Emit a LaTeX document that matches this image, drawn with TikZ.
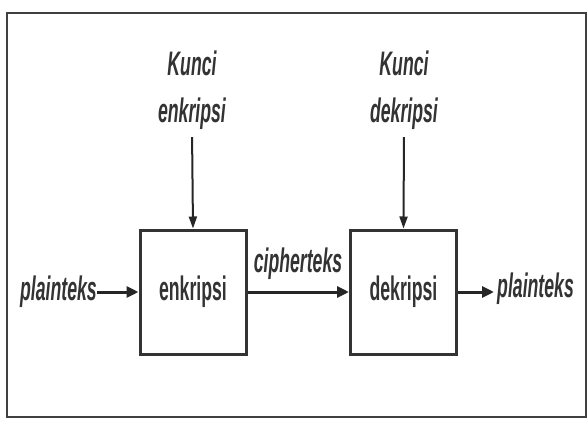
\documentclass[tikz,border=0pt]{standalone}
\usepackage{fontspec}
\setmainfont{Liberation Sans}[FakeStretch=0.52]
\usetikzlibrary{arrows.meta}
\begin{document}
\begin{tikzpicture}[x=1pt,y=-1pt,
  txt/.style={font=\fontsize{34}{47}\selectfont\bfseries, inner sep=0pt, text=black!80},
  lbl/.style={txt, font=\fontsize{34}{47}\selectfont\bfseries\itshape},
  proc/.style={draw=black!80, line width=3pt, minimum width=106pt, minimum height=124pt, txt},
  flow/.style={draw=black!85, line width=3pt, -{Triangle[length=12pt,width=11pt]}},
  keyarrow/.style={draw=black!85, line width=2pt, -{Triangle[length=12pt,width=8pt]}},
  frame/.style={draw=black!75, line width=2.8pt}]
  \useasboundingbox (0,0) rectangle (588,420);
  \draw[frame] (7,13) rectangle (586,417);

  % processing blocks
  \node[proc] (enk) at (193,292) {enkripsi};
  \node[proc] (dek) at (403.5,292) {dekripsi};

  % keys
  \node[lbl, align=center] (kenk) at (192,90.5) {Kunci\\enkripsi};
  \node[lbl, align=center] (kdek) at (404,90.5) {Kunci\\dekripsi};
  \draw[keyarrow, shorten <=7pt] (kenk.south) -- (enk.north);
  \draw[keyarrow, shorten <=7pt] (kdek.south) -- (dek.north);

  % data flow
  \node[lbl, anchor=base east] (pin) at (97,300) {plainteks};
  \node[lbl, anchor=base] (cip) at (298,272) {cipherteks};
  \node[lbl, anchor=base west] (pout) at (497,297) {plainteks};
  \draw[flow] (pin.east |- enk) -- (enk.west);
  \draw[flow] (enk.east) -- (dek.west);
  \draw[flow] (dek.east) -- ([xshift=-3pt]pout.west |- dek);
\end{tikzpicture}
\end{document}
